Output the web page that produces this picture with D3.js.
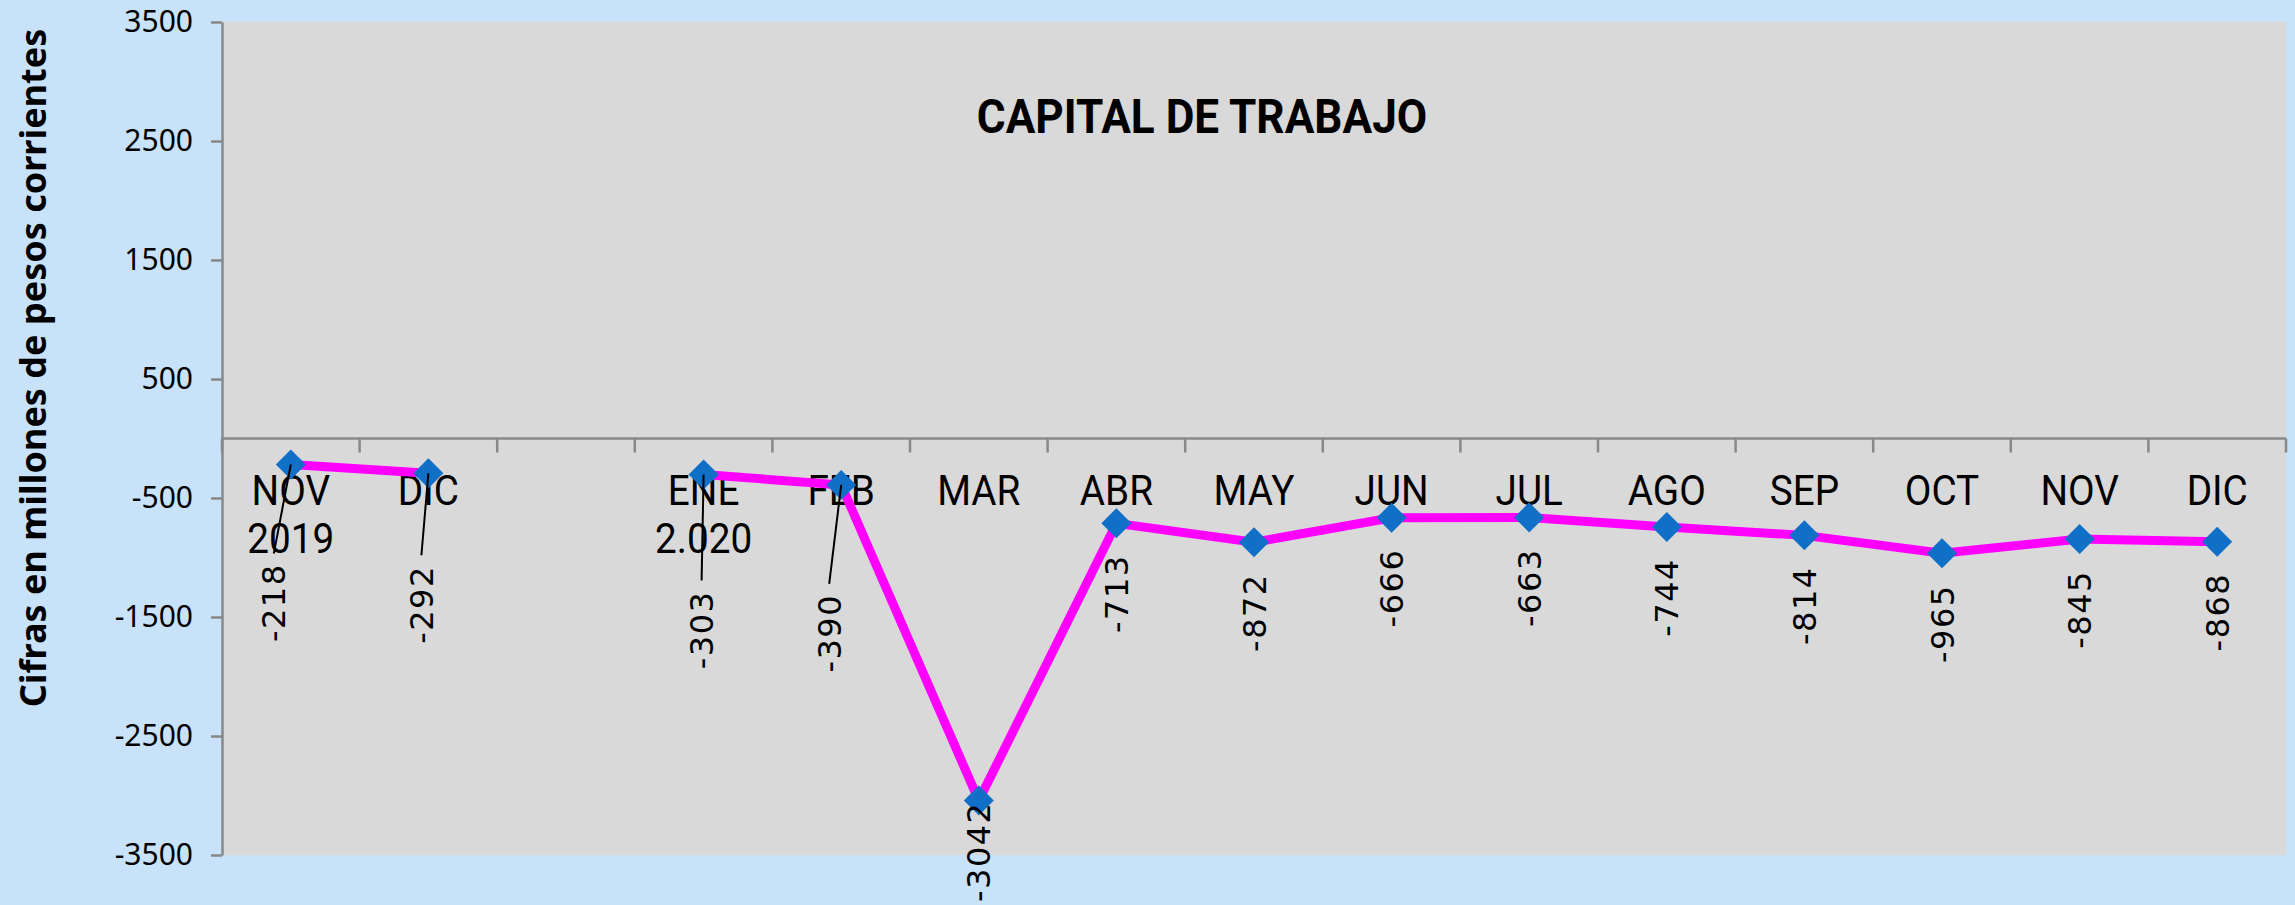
<!doctype html>
<html>
<head>
<meta charset="utf-8">
<title>Capital de trabajo</title>
<script src="https://cdnjs.cloudflare.com/ajax/libs/d3/7.8.5/d3.min.js"></script>
<style>
  body { margin: 0; background: #c8e2f9; }
  svg { display: block; }
</style>
</head>
<body>
<svg id="chart" width="2295" height="905"></svg>
<script>
// months on the x axis (each entry = lines of the label), a blank slot between 2019 and 2020
var categories = [["NOV", "2019"], ["DIC"], [], ["ENE", "2.020"], ["FEB"], ["MAR"], ["ABR"],
                  ["MAY"], ["JUN"], ["JUL"], ["AGO"], ["SEP"], ["OCT"], ["NOV"], ["DIC"]];
var values = [-218, -292, null, -303, -390, -3042, -713, -872, -666, -663, -744, -814, -965, -845, -868];
var yTicks = [3500, 2500, 1500, 500, -500, -1500, -2500, -3500];

// labels that were dragged away from their point (dx, dy), drawn with a leader line
var labelNudge = { 0: [-17, 68], 1: [-7, 61], 3: [-2, 85], 4: [-12, 78] };

(function () {
    var svg = d3.select("#chart"),
        W = 2295, H = 905,
        mLeft = 222, mRight = 2286, mTop = 22, mBottom = 855;

    var x = d3.scaleBand().domain(d3.range(categories.length)).range([mLeft, mRight]);
    var y = d3.scaleLinear().domain([-3500, 3500]).range([mBottom, mTop]);
    var cx = function (i) { return x(i) + x.bandwidth() / 2; };

    svg.append("rect")
        .attr("x", mLeft).attr("y", mTop)
        .attr("width", mRight - mLeft).attr("height", mBottom - mTop)
        .attr("fill", "#d9d9d9");

    // y axis
    var yAxis = svg.append("g")
        .attr("transform", "translate(" + mLeft + ",0)")
        .call(d3.axisLeft(y).tickValues(yTicks).tickFormat(function (d) { return String(d); })
            .tickSize(11).tickSizeOuter(0).tickPadding(18));
    yAxis.select(".domain").attr("stroke", "#888").attr("stroke-width", 2.5);
    yAxis.selectAll(".tick line").attr("stroke", "#888").attr("stroke-width", 2.5);
    yAxis.selectAll(".tick text")
        .attr("font-family", "Noto Sans").attr("font-size", 30).attr("fill", "#000");

    // x axis along zero
    svg.append("line")
        .attr("x1", mLeft).attr("x2", mRight)
        .attr("y1", y(0)).attr("y2", y(0))
        .attr("stroke", "#888").attr("stroke-width", 2.5);

    var edges = x.domain().map(function (i) { return x(i); }).concat([mRight]);
    svg.selectAll(".xtick")
        .data(edges)
        .enter().append("line")
        .attr("class", "xtick")
        .attr("x1", function (d) { return d; }).attr("x2", function (d) { return d; })
        .attr("y1", y(0)).attr("y2", y(0) + 14)
        .attr("stroke", "#888").attr("stroke-width", 2.5);

    var catText = svg.selectAll(".cat")
        .data(categories)
        .enter().append("text")
        .attr("class", "cat")
        .attr("transform", function (d, i) { return "translate(" + cx(i) + ",0) scale(0.9,1)"; })
        .attr("text-anchor", "middle")
        .attr("font-family", "Roboto")
        .attr("font-size", 43)
        .attr("fill", "#000");
    catText.each(function (lines) {
        var t = d3.select(this);
        lines.forEach(function (s, k) {
            t.append("tspan").attr("x", 0).attr("y", y(0) + 67 + k * 48).text(s);
        });
    });

    // series line
    var line = d3.line()
        .defined(function (d) { return d != null; })
        .x(function (d, i) { return cx(i); })
        .y(function (d) { return y(d); });

    svg.append("path")
        .datum(values)
        .attr("d", line)
        .attr("fill", "none")
        .attr("stroke", "#ff00ff")
        .attr("stroke-width", 9);

    var points = values.map(function (v, i) { return { v: v, i: i }; })
        .filter(function (d) { return d.v != null; });

    svg.selectAll(".marker")
        .data(points)
        .enter().append("path")
        .attr("class", "marker")
        .attr("d", d3.symbol().type(d3.symbolSquare).size(450))
        .attr("transform", function (d) { return "translate(" + cx(d.i) + "," + y(d.v) + ") rotate(45)"; })
        .attr("fill", "#106fc6");

    // data labels, rotated, below each point
    svg.selectAll(".lbl")
        .data(points)
        .enter().append("text")
        .attr("class", "lbl")
        .attr("text-anchor", "end")
        .attr("dy", "0.36em")
        .attr("font-family", "DejaVu Sans")
        .attr("font-size", 32)
        .attr("letter-spacing", 1.5)
        .attr("fill", "#000")
        .text(function (d) { return d.v; })
        .each(function (d) {
            var len = this.getComputedTextLength(),
                nudge = labelNudge[d.i] || [0, 0],
                px = cx(d.i), py = y(d.v),
                lx = px + nudge[0],
                ly = py + 31 + nudge[1];
            if (ly + len > H - 3) ly = H - 3 - len;
            d3.select(this).attr("transform", "translate(" + lx + "," + ly + ") rotate(-90)");
            if (labelNudge[d.i]) {
                svg.append("line")
                    .attr("x1", px).attr("y1", py)
                    .attr("x2", lx).attr("y2", ly - 10)
                    .attr("stroke", "#000").attr("stroke-width", 2);
            }
        });

    // titles
    svg.append("text")
        .attr("transform", "translate(1202,133) scale(0.92,1)")
        .attr("text-anchor", "middle")
        .attr("font-family", "Roboto")
        .attr("font-weight", "bold")
        .attr("font-size", 48)
        .text("CAPITAL DE TRABAJO");

    svg.append("text")
        .attr("transform", "translate(46,368) rotate(-90)")
        .attr("text-anchor", "middle")
        .attr("font-family", "Noto Sans")
        .attr("font-weight", "bold")
        .attr("font-size", 36)
        .text("Cifras en millones de pesos corrientes");
})();
</script>
</body>
</html>
